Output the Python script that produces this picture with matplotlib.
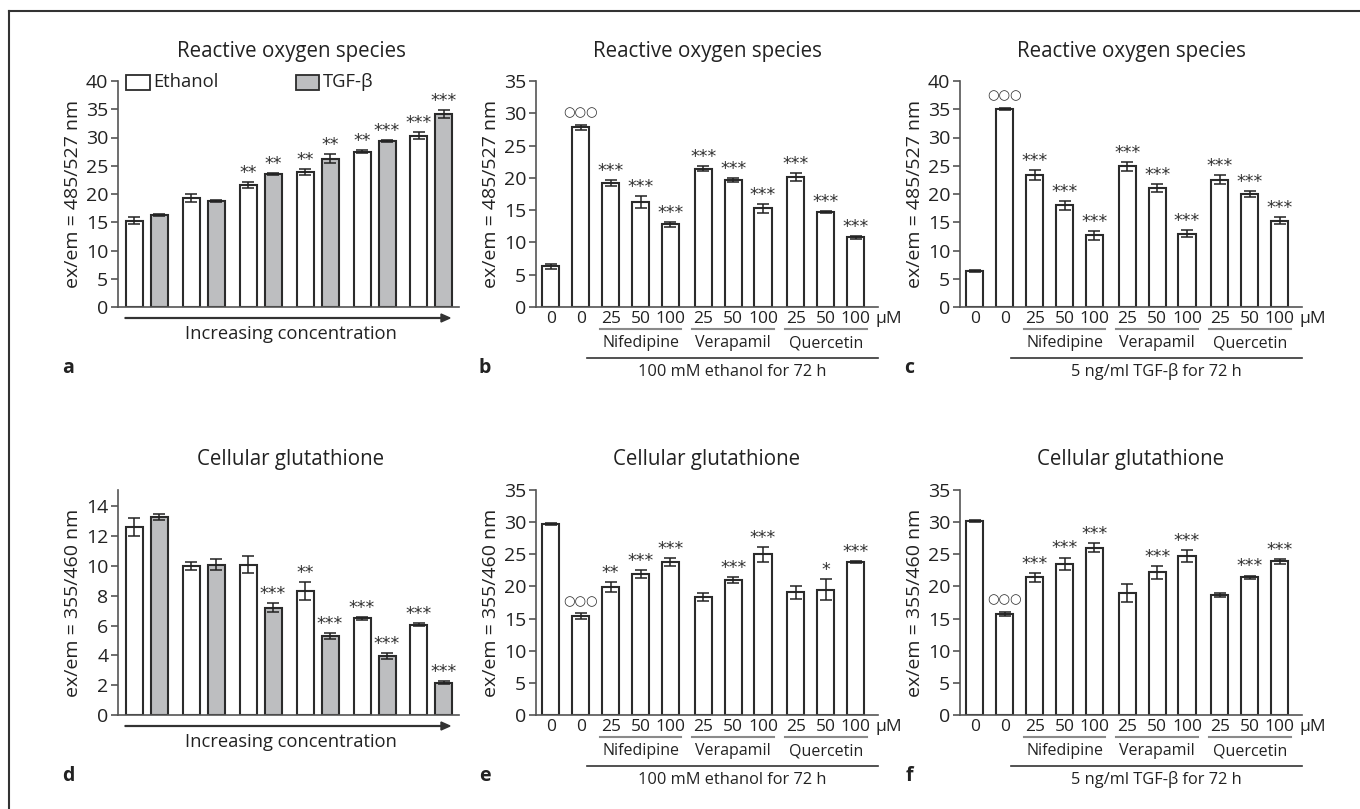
import matplotlib
matplotlib.use("Agg")
import matplotlib.pyplot as plt
from matplotlib.patches import Rectangle, FancyArrow
from matplotlib.lines import Line2D
import matplotlib.transforms as mtransforms

plt.rcParams['font.family'] = ['Open Sans', 'DejaVu Sans']

# Panels a and d: ethanol vs TGF-beta, increasing concentration
ros_eth = [15.3, 19.3, 21.6, 23.9, 27.5, 30.3]
ros_eth_err = [0.6, 0.7, 0.6, 0.6, 0.2, 0.6]
ros_eth_sig = ["", "", "**", "**", "**", "***"]
ros_tgf = [16.3, 18.7, 23.5, 26.2, 29.4, 34.1]
ros_tgf_err = [0.2, 0.2, 0.2, 0.8, 0.2, 0.7]
ros_tgf_sig = ["", "", "**", "**", "***", "***"]

gsh_eth = [12.6, 10.0, 10.1, 8.3, 6.5, 6.05]
gsh_eth_err = [0.6, 0.3, 0.6, 0.6, 0.1, 0.1]
gsh_eth_sig = ["", "", "", "**", "***", "***"]
gsh_tgf = [13.3, 10.1, 7.2, 5.3, 3.95, 2.15]
gsh_tgf_err = [0.2, 0.35, 0.3, 0.2, 0.2, 0.1]
gsh_tgf_sig = ["", "", "***", "***", "***", "***"]

# Panels b, c, e, f: inhibitors
dose_labels = ["0", "0", "25", "50", "100", "25", "50", "100", "25", "50", "100"]
drugs = ["Nifedipine", "Verapamil", "Quercetin"]

ros_etoh_inh = [6.3, 27.8, 19.2, 16.3, 12.8, 21.4, 19.7, 15.3, 20.1, 14.7, 10.8]
ros_etoh_inh_err = [0.4, 0.4, 0.5, 0.9, 0.4, 0.4, 0.3, 0.7, 0.6, 0.2, 0.2]
ros_etoh_inh_sig = ["", "ooo"] + ["***"] * 9

ros_tgf_inh = [6.4, 35.1, 23.3, 18.0, 12.7, 24.9, 21.1, 13.0, 22.5, 20.0, 15.3]
ros_tgf_inh_err = [0.2, 0.2, 0.9, 0.8, 0.8, 0.8, 0.7, 0.6, 0.8, 0.6, 0.6]
ros_tgf_inh_sig = ["", "ooo"] + ["***"] * 9

gsh_etoh_inh = [29.7, 15.4, 19.9, 21.9, 23.8, 18.4, 21.0, 25.0, 19.1, 19.5, 23.8]
gsh_etoh_inh_err = [0.2, 0.4, 0.8, 0.6, 0.6, 0.6, 0.5, 1.2, 1.0, 1.6, 0.2]
gsh_etoh_inh_sig = ["", "ooo", "**", "***", "***", "", "***", "***", "", "*", "***"]

gsh_tgf_inh = [30.2, 15.7, 21.4, 23.5, 26.0, 19.0, 22.2, 24.7, 18.7, 21.4, 23.9]
gsh_tgf_inh_err = [0.15, 0.3, 0.7, 1.0, 0.7, 1.4, 1.0, 0.9, 0.3, 0.3, 0.4]
gsh_tgf_inh_sig = ["", "ooo", "***", "***", "***", "", "***", "***", "", "***", "***"]

W, H = 1360, 809
EDGE = "#2b2b2b"
GRAY = "#bdbec0"
AXCOL = "#555555"
TXT = "#222222"

fig = plt.figure(figsize=(W / 100, H / 100), dpi=100)

# partial frame (top and left only)
fig.add_artist(Line2D([9 / W, 1], [1 - 11 / H, 1 - 11 / H], color="#333333", lw=1.5))
fig.add_artist(Line2D([9 / W, 9 / W], [1 - 11 / H, 0], color="#333333", lw=1.5))


def make_axes(left, right, top, bottom):
    return fig.add_axes([left / W, 1 - bottom / H, (right - left) / W, (bottom - top) / H])


def style_axes(ax, ymax, ystep, ylabel):
    ax.set_ylim(0, ymax)
    ax.set_yticks(range(0, int(ymax) + 1, ystep))
    for s in ["top", "right"]:
        ax.spines[s].set_visible(False)
    ax.spines["left"].set_color(AXCOL)
    ax.spines["bottom"].set_color(AXCOL)
    ax.spines["left"].set_linewidth(1.2)
    ax.spines["bottom"].set_linewidth(1.2)
    ax.tick_params(axis="y", direction="out", length=5, width=1.2, color=AXCOL,
                   labelsize=14, pad=2, labelcolor=TXT)
    ax.tick_params(axis="x", length=0)
    ax.set_ylabel(ylabel, fontsize=14, color=TXT, labelpad=3)
    ax.patch.set_alpha(0)


def draw_bars(ax, xs, vals, errs, sigs, color, width):
    ax.bar(xs, vals, width=width, color=color, edgecolor=EDGE, linewidth=1.5, zorder=2)
    ax.errorbar(xs, vals, yerr=errs, fmt="none", ecolor=TXT, elinewidth=1.1,
                capsize=4.5, capthick=1.1, zorder=3)
    for x, v, e, s in zip(xs, vals, errs, sigs):
        if not s:
            continue
        if s == "ooo":
            ax.annotate("\u25cb\u25cb\u25cb", (x, v + e), xytext=(0, 4), textcoords="offset points",
                        ha="center", va="bottom", fontsize=9.5, color="#333333",
                        family="DejaVu Sans")
        else:
            ax.annotate(s, (x, v + e), xytext=(0, 0), textcoords="offset points",
                        ha="center", va="bottom", fontsize=12.5, color="#333333",
                        family="DejaVu Sans")


def pair_panel(left, top, bottom, eth, eth_err, eth_sig, tgf, tgf_err, tgf_sig,
               ymax, ystep, ylabel, title, letter, legend=False):
    ax = make_axes(left, 459, top, bottom)
    n = len(eth)
    xe = [i * 2.28 for i in range(n)]
    xt = [i * 2.28 + 1 for i in range(n)]
    draw_bars(ax, xe, eth, eth_err, eth_sig, "white", 0.68)
    draw_bars(ax, xt, tgf, tgf_err, tgf_sig, GRAY, 0.68)
    ax.set_xlim(-0.64, 13.0)
    ax.set_xticks([])
    style_axes(ax, ymax, ystep, ylabel)
    # arrow for increasing concentration
    ya = bottom + 11
    fig.add_artist(FancyArrow(125 / W, 1 - ya / H, 325 / W, 0, width=0.8 / H,
                              head_width=8 / H, head_length=9 / W,
                              length_includes_head=True, color="#333333"))
    fig.text(291 / W, 1 - (ya + 16) / H, "Increasing concentration", ha="center",
             va="center", fontsize=13.2, color=TXT)
    fig.text(291 / W, 1 - (top - 30) / H, title, ha="center", va="center",
             fontsize=14.8, color=TXT)
    fig.text(68 / W, 1 - (bottom + 61) / H, letter, ha="center", va="center",
             fontsize=14, fontweight="bold", color=TXT)
    if legend:
        fig.add_artist(Rectangle((126 / W, 1 - 90 / H), 24 / W, 15 / H, facecolor="white",
                                 edgecolor=EDGE, lw=1.3))
        fig.text(153 / W, 1 - 82 / H, "Ethanol", ha="left", va="center", fontsize=13.2,
                 color=TXT)
        fig.add_artist(Rectangle((296 / W, 1 - 90 / H), 23 / W, 15 / H, facecolor=GRAY,
                                 edgecolor=EDGE, lw=1.3))
        fig.text(323 / W, 1 - 82 / H, "TGF-\u03b2", ha="left", va="center", fontsize=13.2,
                 color=TXT)
    return ax


def inhibitor_panel(left, top, bottom, vals, errs, sigs, ymax, ylabel, title, letter,
                    treatment):
    right = left + 342
    ax = make_axes(left, right, top, bottom)
    xs = []
    for i in range(len(vals)):
        grp = 0 if i < 5 else (1 if i < 8 else 2)
        xs.append(i + 0.1 * grp)
    draw_bars(ax, xs, vals, errs, sigs, "white", 0.57)
    ax.set_xlim(-0.5, 10.95)
    ax.set_xticks([])
    style_axes(ax, ymax, 5, ylabel)
    hpx = bottom - top
    tr = mtransforms.blended_transform_factory(ax.transData, ax.transAxes)
    for x, lab in zip(xs, dose_labels):
        ax.text(x, -12 / hpx, lab, transform=tr, ha="center", va="center",
                fontsize=12.5, color=TXT, clip_on=False)
    ax.text(xs[-1] + 0.68, -12 / hpx, "\u03bcM", transform=tr, ha="left", va="center",
            fontsize=12.5, color=TXT, clip_on=False)
    groups = [xs[2:5], xs[5:8], xs[8:11]]
    for g, name in zip(groups, drugs):
        ax.add_line(Line2D([g[0] - 0.37, g[-1] + 0.37], [-22 / hpx, -22 / hpx],
                           transform=tr, color="#8a8a8a", lw=1.5, clip_on=False))
        ax.text((g[0] + g[-1]) / 2, -36 / hpx, name, transform=tr, ha="center",
                va="center", fontsize=11.5, color=TXT, clip_on=False)
    ax.add_line(Line2D([xs[1] + 0.2, 10.95], [-51 / hpx, -51 / hpx], transform=tr,
                       color="#333333", lw=1.2, clip_on=False))
    ax.text((xs[1] + 0.2 + 10.95) / 2, -65 / hpx, treatment, transform=tr, ha="center",
            va="center", fontsize=11.8, color=TXT, clip_on=False)
    fig.text((left + 171) / W, 1 - (top - 30) / H, title, ha="center", va="center",
             fontsize=14.8, color=TXT)
    fig.text((left - 51) / W, 1 - (bottom + 61) / H, letter, ha="center", va="center",
             fontsize=14, fontweight="bold", color=TXT)
    return ax


ros_label = "ex/em = 485/527 nm"
gsh_label = "ex/em = 355/460 nm"

pair_panel(118, 81, 307, ros_eth, ros_eth_err, ros_eth_sig, ros_tgf, ros_tgf_err,
           ros_tgf_sig, 40, 5, ros_label, "Reactive oxygen species", "a", legend=True)
inhibitor_panel(536, 81, 307, ros_etoh_inh, ros_etoh_inh_err, ros_etoh_inh_sig, 35,
                ros_label, "Reactive oxygen species", "b", "100 mM ethanol for 72 h")
inhibitor_panel(960, 81, 307, ros_tgf_inh, ros_tgf_inh_err, ros_tgf_inh_sig, 40,
                ros_label, "Reactive oxygen species", "c", "5 ng/ml TGF-\u03b2 for 72 h")

pair_panel(118, 490, 715, gsh_eth, gsh_eth_err, gsh_eth_sig, gsh_tgf, gsh_tgf_err,
           gsh_tgf_sig, 15.1, 2, gsh_label, "Cellular glutathione", "d")
inhibitor_panel(536, 490, 715, gsh_etoh_inh, gsh_etoh_inh_err, gsh_etoh_inh_sig, 35,
                gsh_label, "Cellular glutathione", "e", "100 mM ethanol for 72 h")
inhibitor_panel(960, 490, 715, gsh_tgf_inh, gsh_tgf_inh_err, gsh_tgf_inh_sig, 35,
                gsh_label, "Cellular glutathione", "f", "5 ng/ml TGF-\u03b2 for 72 h")

fig.savefig("out.png", dpi=100)
